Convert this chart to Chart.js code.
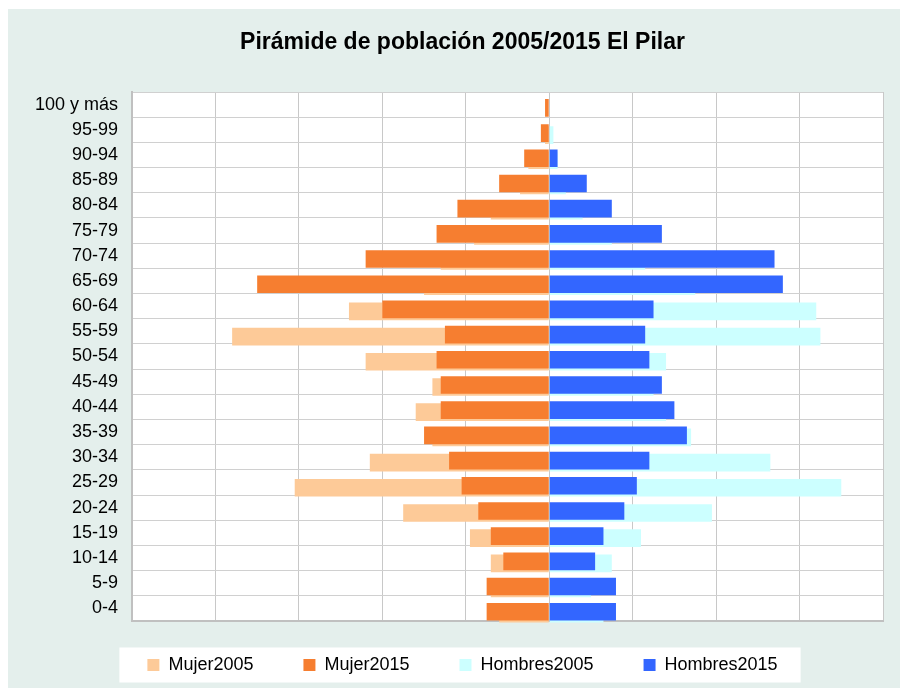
<!DOCTYPE html>
<html>
<head>
<meta charset="utf-8">
<title>Pirámide de población 2005/2015 El Pilar</title>
<script src="https://cdn.jsdelivr.net/npm/chart.js"></script>
<style>
  html, body { margin: 0; padding: 0; background: #fff; overflow: hidden; }
  #wrap { position: absolute; left: 8px; top: 9px; width: 909px; height: 679px; background: #e4efec; }
</style>
</head>
<body>
<div id="wrap"><canvas id="pyramid"></canvas></div>
<script>
// age groups, top to bottom
const grupos = ['100 y más', '95-99', '90-94', '85-89', '80-84', '75-79', '70-74', '65-69', '60-64', '55-59',
                '50-54', '45-49', '40-44', '35-39', '30-34', '25-29', '20-24', '15-19', '10-14', '5-9', '0-4'];

const mujer2005   = [0, 1, 5, 7, 14, 18, 26, 30, 48, 76, 44, 28, 32, 28, 43, 61, 35, 19, 14, 14, 12];
const mujer2015   = [1, 2, 6, 12, 22, 27, 44, 70, 40, 25, 27, 26, 26, 30, 24, 21, 17, 14, 11, 15, 15];
const hombres2005 = [0, 1, 2, 4, 8, 15, 23, 35, 64, 65, 28, 25, 28, 34, 53, 70, 39, 22, 15, 10, 13];
const hombres2015 = [0, 0, 2, 9, 15, 27, 54, 56, 25, 23, 24, 27, 30, 33, 24, 21, 18, 13, 11, 16, 16];

Chart.defaults.font.family = '"Liberation Sans", Arial, sans-serif';
Chart.defaults.color = '#000';

// white plot area + white legend strip, and the small downward shift of the bars
const framePlugin = {
    id: 'frame',
    afterLayout(chart) {
        // legend row sits closer to the plot than its label padding allows
        const lg = chart.legend;
        lg.top = chart.chartArea.bottom - 15;
        lg.bottom = lg.top + 85;
        lg.height = 85;
    },
    beforeDraw(chart) {
        const ctx = chart.ctx;
        const a = chart.chartArea;
        ctx.save();
        ctx.fillStyle = '#ffffff';
        ctx.fillRect(a.left, a.top, a.right - a.left, a.bottom - a.top);
        const boxes = chart.legend.legendHitBoxes;
        if (boxes && boxes.length) {
            const first = boxes[0], last = boxes[boxes.length - 1];
            const cy = chart.legend.top + chart.options.plugins.legend.labels.padding + 9;
            const x0 = first.left - 28;
            const x1 = last.left + last.width + 23;
            ctx.fillRect(x0, cy - 17.5, x1 - x0, 35);
        }
        ctx.restore();
    },
    beforeDatasetDraw(chart, args) {
        chart.ctx.save();
        chart.ctx.translate(0, chart.data.datasets[args.index].shiftY || 0);
    },
    afterDatasetDraw(chart) {
        chart.ctx.restore();
    }
};

new Chart(document.getElementById('pyramid'), {
    type: 'bar',
    data: {
        labels: grupos,
        datasets: [
            { label: 'Mujer2005', data: mujer2005.map(v => -v), backgroundColor: '#fdca98', order: 1, shiftY: 5.3 },
            { label: 'Mujer2015', data: mujer2015.map(v => -v), backgroundColor: '#f67e30', order: 0, shiftY: 3.3 },
            { label: 'Hombres2005', data: hombres2005, backgroundColor: '#ccffff', order: 1, shiftY: 5.3 },
            { label: 'Hombres2015', data: hombres2015, backgroundColor: '#3366ff', order: 0, shiftY: 3.3 }
        ]
    },
    options: {
        indexAxis: 'y',
        responsive: true,
        maintainAspectRatio: false,
        animation: false,
        layout: { padding: { left: 0, right: 0, top: 0, bottom: 37 } },
        datasets: { bar: { grouped: false, barPercentage: 0.7, categoryPercentage: 1 } },
        scales: {
            x: {
                min: -100, max: 80,
                ticks: { display: false, stepSize: 20 },
                grid: { color: '#c8c8c8', drawTicks: false },
                border: { color: '#c0c0c0', width: 2 }
            },
            y: {
                ticks: { color: '#000', font: { size: 18 }, padding: 14 },
                grid: { color: '#d0d0d0', drawTicks: false },
                border: { color: '#c0c0c0', width: 2 },
                afterFit: s => { s.width = 124; }
            },
            yRight: {
                type: 'category',
                position: 'right',
                ticks: { display: false },
                grid: { display: false, drawTicks: false },
                border: { display: false },
                afterFit: s => { s.width = 34; }
            }
        },
        plugins: {
            title: {
                display: true,
                text: 'Pirámide de población 2005/2015 El Pilar',
                color: '#000',
                font: { size: 23, weight: 'bold' },
                padding: { top: 20, bottom: 35.4 }
            },
            legend: {
                position: 'bottom',
                maxHeight: 30,
                labels: {
                    color: '#000',
                    font: { size: 18 },
                    boxWidth: 12,
                    boxHeight: 12,
                    padding: 50,
                    sort: (a, b) => a.datasetIndex - b.datasetIndex
                }
            },
            tooltip: { enabled: false }
        }
    },
    plugins: [framePlugin]
});
</script>
</body>
</html>
